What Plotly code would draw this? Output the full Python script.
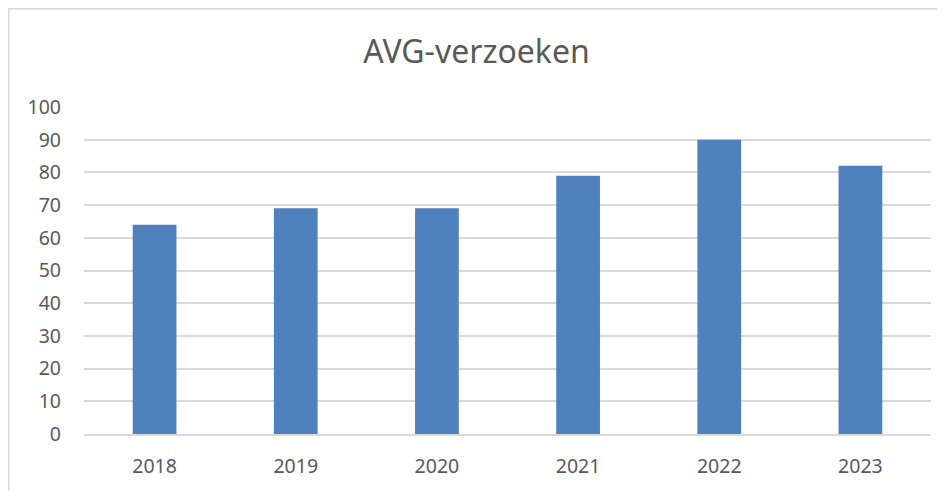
import plotly.graph_objects as go

# Data
jaren = ["2018", "2019", "2020", "2021", "2022", "2023"]
verzoeken = [64, 69, 69, 79, 90, 82]
y_ticks = [0, 10, 20, 30, 40, 50, 60, 70, 80, 90, 100]

grijs = "#595959"

fig = go.Figure(go.Bar(x=jaren, y=verzoeken, marker_color="#4f81bd",
                       marker_line_width=0, width=0.31))

# page body has an 8px margin, so the figure is a bit smaller than the window
fig.update_layout(
    width=937, height=483,
    margin=dict(l=76, r=14, t=99, b=57),
    paper_bgcolor="white", plot_bgcolor="white",
    font=dict(family="Noto Sans, Open Sans, sans-serif", color=grijs, size=19.5),
    title=dict(text="AVG-verzoeken", x=0.5, xanchor="center", y=0.909, yanchor="middle",
               font=dict(size=32, color=grijs)),
    showlegend=False,
    xaxis=dict(showgrid=False, showline=True, linecolor="#d9d9d9", linewidth=1.5,
               ticks="", ticklabelstandoff=14),
    yaxis=dict(range=[0, 100], tickvals=y_ticks, showgrid=True, gridcolor="#d9d9d9",
               gridwidth=1.5, zeroline=False, ticks="", ticklabelstandoff=22),
    shapes=[dict(type="rect", xref="paper", yref="paper",
                 x0=-0.0888, x1=1.2, y0=-0.4, y1=1.3005,
                 line=dict(color="#d9d9d9", width=1.5), layer="below")],
)

fig.write_html("out.html")
